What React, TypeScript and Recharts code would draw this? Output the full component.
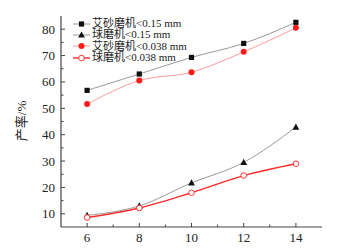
import React from 'react';
import { LineChart, Line, XAxis, YAxis, Legend } from 'recharts';

const xValues = [6, 8, 10, 12, 14];
const sandMill015 = [56.8, 63.0, 69.3, 74.6, 82.6];
const ballMill015 = [9.4, 13.0, 21.7, 29.5, 42.9];
const sandMill0038 = [51.6, 60.5, 63.7, 71.4, 80.5];
const ballMill0038 = [8.6, 12.2, 18.0, 24.5, 29.0];
const seriesNames = ['艾砂磨机<0.15 mm', '球磨机<0.15 mm', '艾砂磨机<0.038 mm', '球磨机<0.038 mm'];
const xTicks = [6, 7, 8, 9, 10, 11, 12, 13, 14];
const yTicks = [10, 15, 20, 25, 30, 35, 40, 45, 50, 55, 60, 65, 70, 75, 80];
const yLabel = '产率/%';

const data = xValues.map((x, i) => ({
  x,
  s1: sandMill015[i],
  s2: ballMill015[i],
  s3: sandMill0038[i],
  s4: ballMill0038[i],
}));

const AXIS = '#444';
const SERIF = '"Liberation Serif", "Times New Roman", "Noto Sans CJK SC", serif';
const TM = 5;

const Square = (p: any) => (
  <rect key={`sq${p.index}`} x={p.cx - 2.6} y={p.cy - 2.6} width={5.2} height={5.2} fill="#111" />
);
const Triangle = (p: any) => (
  <polygon
    key={`tr${p.index}`}
    points={`${p.cx},${p.cy - 3.6} ${p.cx - 3.4},${p.cy + 2.6} ${p.cx + 3.4},${p.cy + 2.6}`}
    fill="#111"
  />
);
const Filled = (p: any) => <circle key={`fc${p.index}`} cx={p.cx} cy={p.cy} r={3} fill="#ff1a1a" />;
const Open = (p: any) => (
  <circle key={`oc${p.index}`} cx={p.cx} cy={p.cy} r={2.8} fill="#fff" stroke="#ff3333" strokeWidth={1} />
);

const series = [
  { key: 's1', name: seriesNames[0], stroke: '#9a9a9a', width: 1, Dot: Square },
  { key: 's2', name: seriesNames[1], stroke: '#9a9a9a', width: 1, Dot: Triangle },
  { key: 's3', name: seriesNames[2], stroke: '#ff9a9a', width: 1, Dot: Filled },
  { key: 's4', name: seriesNames[3], stroke: '#ff2a2a', width: 1.4, Dot: Open },
];

const XTick = (p: any) => {
  const v = p.payload.value;
  const major = v % 2 === 0;
  const ay = p.y - TM;
  return (
    <g>
      <line x1={p.x} x2={p.x} y1={ay} y2={ay - (major ? 4 : 2.5)} stroke={AXIS} strokeWidth={1} />
      {major && (
        <text x={p.x} y={p.y} dy="0.75em" textAnchor="middle" fontSize={13} fill="#222" fontFamily={SERIF}>
          {v}
        </text>
      )}
    </g>
  );
};

const YTick = (p: any) => {
  const v = p.payload.value;
  const major = v % 10 === 0;
  const ax = p.x + TM;
  return (
    <g>
      <line x1={ax} x2={ax + (major ? 4 : 2.5)} y1={p.y} y2={p.y} stroke={AXIS} strokeWidth={1} />
      {major && (
        <text x={p.x - 1} y={p.y} dy="0.35em" textAnchor="end" fontSize={13} fill="#222" fontFamily={SERIF}>
          {v}
        </text>
      )}
    </g>
  );
};

const ROW = 11.3;
const LegendContent = () => (
  <div style={{ fontFamily: SERIF, fontSize: 11, color: '#222', lineHeight: `${ROW}px` }}>
    {series.map((s) => (
      <div key={s.key} style={{ display: 'flex', alignItems: 'center', height: ROW, whiteSpace: 'nowrap' }}>
        <svg width={19} height={10} style={{ marginRight: 1 }}>
          <line x1={1} x2={18} y1={5} y2={5} stroke={s.stroke} strokeWidth={s.width} />
          <s.Dot cx={9.5} cy={5} index={0} />
        </svg>
        <span>{s.name}</span>
      </div>
    ))}
  </div>
);

export default function App() {
  return (
    <div style={{ position: 'absolute', left: 0, top: 0, width: 342, height: 252, background: '#fff' }}>
      <LineChart
        width={342}
        height={252}
        data={data}
        margin={{ top: 16, right: 20, left: 21, bottom: 0 }}
      >
        <XAxis
          xAxisId="b"
          dataKey="x"
          type="number"
          domain={[5, 15]}
          ticks={xTicks}
          interval={0}
          height={25}
          tickSize={0}
          tickMargin={TM}
          tickLine={false}
          tick={XTick}
          axisLine={{ stroke: AXIS, strokeWidth: 1.2 }}
        />
        <XAxis
          xAxisId="t"
          orientation="top"
          dataKey="x"
          type="number"
          domain={[5, 15]}
          height={0}
          tick={false}
          tickLine={false}
          axisLine={{ stroke: AXIS, strokeWidth: 1.2 }}
        />
        <YAxis
          yAxisId="l"
          type="number"
          domain={[5, 85]}
          ticks={yTicks}
          interval={0}
          width={40}
          tickSize={0}
          tickMargin={TM}
          tickLine={false}
          tick={YTick}
          axisLine={{ stroke: AXIS, strokeWidth: 1.2 }}
        />
        <YAxis
          yAxisId="r"
          orientation="right"
          type="number"
          domain={[5, 85]}
          width={0}
          tick={false}
          tickLine={false}
          axisLine={{ stroke: AXIS, strokeWidth: 1.2 }}
        />
        {series.map((s) => (
          <Line
            key={s.key}
            xAxisId="b"
            yAxisId="l"
            type="monotone"
            dataKey={s.key}
            name={s.name}
            stroke={s.stroke}
            strokeWidth={s.width}
            dot={s.Dot}
            activeDot={false}
            isAnimationActive={false}
          />
        ))}
        <Legend
          layout="horizontal"
          verticalAlign="middle"
          align="center"
          content={LegendContent}
          wrapperStyle={{ position: 'absolute', left: 72, top: 18, width: 'auto', height: 'auto' }}
        />
      </LineChart>
      <div
        style={{
          position: 'absolute',
          left: 20,
          top: 121,
          transform: 'translate(-50%, -50%) rotate(-90deg)',
          fontFamily: SERIF,
          fontSize: 13,
          color: '#222',
          whiteSpace: 'nowrap',
        }}
      >
        {yLabel}
      </div>
    </div>
  );
}
